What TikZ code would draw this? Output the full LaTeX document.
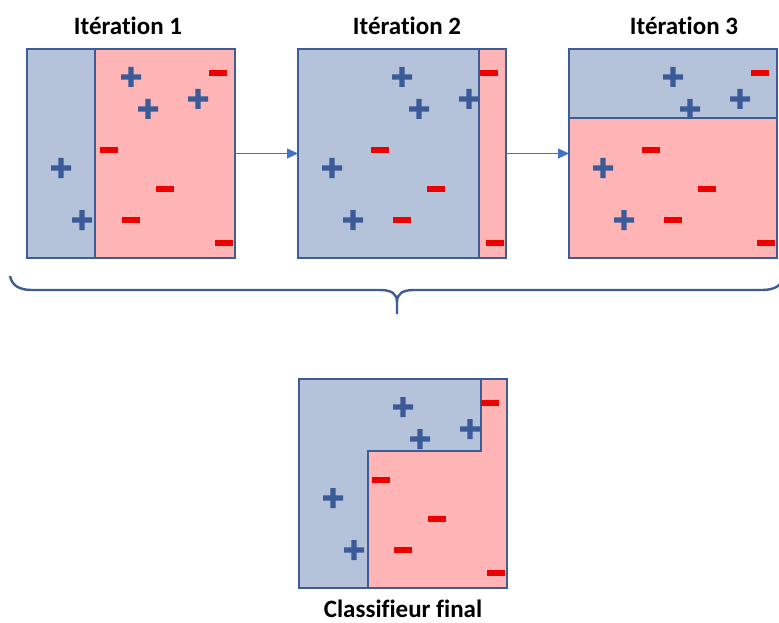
\documentclass[tikz,border=0pt]{standalone}
\usepackage{fontspec}
\setmainfont{Carlito}[Ligatures=NoCommon]
\usetikzlibrary{positioning,arrows.meta}

\definecolor{zoneblue}{RGB}{180,195,218}
\definecolor{zonered}{RGB}{255,181,181}
\definecolor{edgeblue}{RGB}{62,92,150}
\definecolor{plusblue}{RGB}{58,90,152}
\definecolor{minusred}{RGB}{238,0,0}
\definecolor{flowblue}{RGB}{68,114,196}

\begin{document}
\begin{tikzpicture}[x=1pt,y=-1pt,
    panel/.style={fill=zoneblue,minimum width=208pt,minimum height=209pt,inner sep=0pt,outer sep=0pt},
    title/.style={font=\bfseries\fontsize{25}{30}\selectfont,inner sep=0pt},
    border/.style={draw=edgeblue,line width=2.2pt},
    flow/.style={-{Triangle[length=11pt,width=10pt]},draw=flowblue,line width=1.2pt},
    brace/.style={draw=edgeblue,line width=2.4pt}]

        \useasboundingbox (0,0) rectangle (779,623);

        % Define panels
        \node[panel] (it1) at (131,153.5) {};
        \node[panel,right=63pt of it1] (it2) {};
        \node[panel,right=63pt of it2] (it3) {};
        \node[panel,below=121pt of it2,xshift=1pt] (final) {};

        % Red zones
        \fill[zonered] ([xshift=68pt]it1.north west) rectangle (it1.south east);
        \fill[zonered] ([xshift=181pt]it2.north west) rectangle (it2.south east);
        \fill[zonered] ([yshift=-69pt]it3.north west) rectangle (it3.south east);
        \fill[zonered] ([xshift=69pt]final.south west) |- ([xshift=182pt,yshift=-72pt]final.north west)
            |- (final.north east) -- (final.south east) -- cycle;

        % Split lines and frames
        \draw[border] ([xshift=68pt]it1.north west) -- ([xshift=68pt]it1.south west);
        \draw[border] ([xshift=181pt]it2.north west) -- ([xshift=181pt]it2.south west);
        \draw[border] ([yshift=-69pt]it3.north west) -- ([yshift=-69pt]it3.north east);
        \draw[border] ([xshift=69pt]final.south west) |- ([xshift=182pt,yshift=-72pt]final.north west)
            -- ([xshift=182pt]final.north west);
        \foreach \p in {it1,it2,it3,final}
            \draw[border] (\p.north west) rectangle (\p.south east);

        % Samples
        \foreach \p in {it1,it2,it3,final}{
            \begin{scope}[shift={(\p.north west)}]
                \foreach \x/\y in {104/28,121/60,171/50,34/119,55/171}
                    \fill[plusblue] (\x-10,\y-2.6) rectangle (\x+10,\y+2.6)
                        (\x-2.6,\y-10) rectangle (\x+2.6,\y+10);
                \foreach \x/\y in {191/24,82/101,138/140,104/171,197/194}
                    \fill[minusred] (\x-9,\y-2.8) rectangle (\x+9,\y+2.8);
            \end{scope}
        }

        % Titles
        \node[title,above=14pt of it1,xshift=-3pt] (t1) {Itération 1};
        \node[title,above=14pt of it2,xshift=5pt] (t2) {Itération 2};
        \node[title,above=14pt of it3,xshift=11pt] (t3) {Itération 3};
        \node[title,below=12pt of final] (tf) {Classifieur final};

        % Draw edges
        \draw[flow] (it1) -- (it2);
        \draw[flow] (it2) -- (it3);

        % Brace
        \coordinate (tip) at (397,314);
        \draw[brace] (10,276) .. controls (12,286) and (20,290) .. (32,290) -- (380,290)
            .. controls (392,290) and (397,294) .. (397,302) -- (tip);
        \draw[brace] (784,276) .. controls (782,286) and (774,290) .. (762,290) -- (414,290)
            .. controls (402,290) and (397,294) .. (397,302);

\end{tikzpicture}
\end{document}
